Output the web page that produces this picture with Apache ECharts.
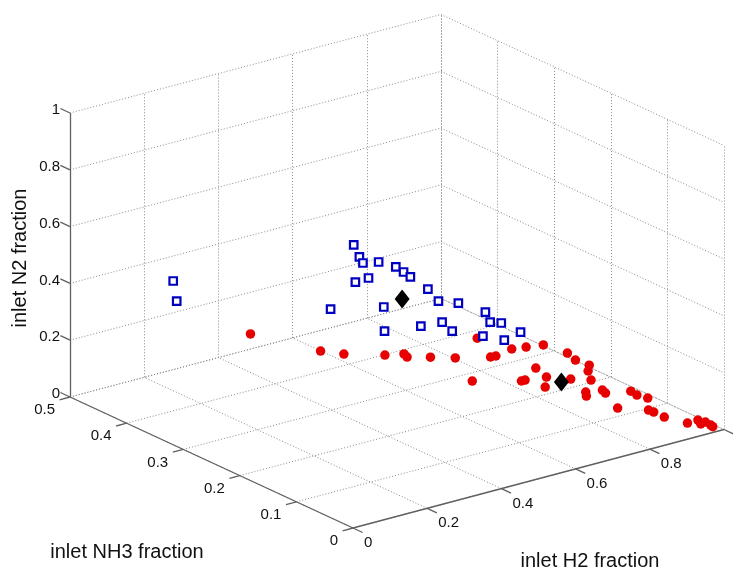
<!DOCTYPE html>
<html><head><meta charset="utf-8">
<script src="https://cdn.jsdelivr.net/npm/echarts@6/dist/echarts.min.js"></script>
<style>html,body{margin:0;padding:0;background:#fff}#c{width:733px;height:569px}</style>
</head><body><div id="c"></div>
<script>
// ---- data: (inlet H2 fraction, inlet NH3 fraction, inlet N2 fraction) ----
const redH2  = [0.430,0.529,0.549,0.562,0.560,0.576,0.581,0.590,0.592,0.588,0.495,0.556,0.549,0.542,0.709,0.718,0.714,0.656,0.703,0.753,0.587,0.624,0.652,0.681,0.727,0.718,0.786,0.806,0.779,0.795,0.790,0.811,0.828,0.872,0.888,0.899,0.926,0.961,0.948,0.968,0.959,0.975,0.991];
const redNH3 = [0.463,0.404,0.376,0.312,0.277,0.282,0.244,0.206,0.145,0.133,0.105,0.084,0.054,0.019,0.254,0.173,0.164,0.107,0.119,0.154,0.006,0.016,0.010,0.031,0.056,0.086,0.104,0.116,0.070,0.075,0.027,0.030,0.022,0.104,0.060,0.058,0.057,0.039,0.012,0.020,0.006,0.007,0.014];
const redN2  = [0.107,0.067,0.075,0.126,0.163,0.142,0.175,0.204,0.263,0.279,0.400,0.360,0.397,0.439,0.037,0.109,0.122,0.237,0.178,0.093,0.407,0.360,0.338,0.288,0.217,0.196,0.110,0.078,0.151,0.130,0.183,0.159,0.150,0.024,0.052,0.043,0.017,0.000,0.040,0.012,0.035,0.018,0.000];

const blueH2  = [0.150,0.251,0.005,0.066,0.097,0.095,0.123,0.150,0.176,0.191,0.173,0.321,0.321,0.240,0.302,0.316,0.442,0.424,0.408,0.455,0.366,0.417,0.424,0.473,0.486,0.510];
const blueNH3 = [0.416,0.476,0.002,0.032,0.046,0.017,0.005,0.009,0.014,0.121,0.086,0.250,0.156,0.025,0.047,0.021,0.234,0.158,0.110,0.123,0.006,0.031,0.016,0.014,0.089,0.067];
const blueN2  = [0.434,0.273,0.993,0.902,0.857,0.888,0.872,0.841,0.810,0.688,0.741,0.429,0.523,0.735,0.651,0.663,0.324,0.418,0.482,0.422,0.628,0.552,0.560,0.513,0.425,0.423];

const diamondH2  = [0.285,0.731];
const diamondNH3 = [0.100,0.111];
const diamondN2  = [0.615,0.158];

const h2Ticks  = [0,0.2,0.4,0.6,0.8,1];
const h2TickLabels  = ['0','0.2','0.4','0.6','0.8',''];
const nh3Ticks = [0,0.1,0.2,0.3,0.4,0.5];
const nh3TickLabels = ['0','0.1','0.2','0.3','0.4','0.5'];
const n2Ticks  = [0,0.2,0.4,0.6,0.8,1];
const n2TickLabels  = ['0','0.2','0.4','0.6','0.8','1'];

// ---- view (orthographic projection of the 3-D box onto the page) ----
const H2_MAX = 1, NH3_MAX = 0.5, N2_MAX = 1;
const ORIGIN = [353, 528];
const EH = [371, -98.5];
const EN = [-566, -262];
const EZ = [0, -284];
function proj(h, n, z) {
  return [ORIGIN[0] + h*EH[0] + n*EN[0] + z*EZ[0],
          ORIGIN[1] + h*EH[1] + n*EN[1] + z*EZ[1]];
}
function add(p, d) { return [p[0]+d[0], p[1]+d[1]]; }

const gridSegs = [];
function seg(a, b) { gridSegs.push({coords: [proj(...a), proj(...b)]}); }
h2Ticks.forEach(h => { seg([h,0,0],[h,NH3_MAX,0]); seg([h,NH3_MAX,0],[h,NH3_MAX,N2_MAX]); });
nh3Ticks.forEach(n => { seg([0,n,0],[H2_MAX,n,0]); seg([H2_MAX,n,0],[H2_MAX,n,N2_MAX]); });
n2Ticks.forEach(z => { seg([0,NH3_MAX,z],[H2_MAX,NH3_MAX,z]); seg([H2_MAX,NH3_MAX,z],[H2_MAX,0,z]); });

const axisSegs = [
  {coords: [proj(0,NH3_MAX,0), proj(0,0,0)]},
  {coords: [proj(0,0,0), proj(H2_MAX,0,0)]},
  {coords: [proj(0,NH3_MAX,0), proj(0,NH3_MAX,N2_MAX)]}
];
const TICK_NH3 = [-10.4, 2.8];   // along -H2
const TICK_H2  = [9.6, 4.5];     // along -NH3
const TICK_N2  = [-9.6, -4.5];   // along +NH3
nh3Ticks.forEach(n => { const p = proj(0,n,0); axisSegs.push({coords:[p, add(p,TICK_NH3)]}); });
h2Ticks.forEach(h => { const p = proj(h,0,0); axisSegs.push({coords:[p, add(p,TICK_H2)]}); });
n2Ticks.forEach(z => { const p = proj(0,NH3_MAX,z); axisSegs.push({coords:[p, add(p,TICK_N2)]}); });

const FONT = '"Liberation Sans", Arial, sans-serif';
function labelSeries(points, texts, align, dx, dy) {
  return {
    type: 'custom', coordinateSystem: 'cartesian2d', silent: true, z: 5,
    data: points,
    renderItem: function (params, api) {
      const c = api.coord([api.value(0), api.value(1)]);
      return {type: 'text', x: c[0] + dx, y: c[1] + dy,
        style: {text: texts[params.dataIndex], fill: '#111', font: '15px ' + FONT,
                align: align, verticalAlign: 'middle', textAlign: align, textVerticalAlign: 'middle'}};
    }
  };
}

const chart = echarts.init(document.getElementById('c'));
chart.setOption({
  animation: false,
  backgroundColor: '#fff',
  grid: {left: 0, right: 0, top: 0, bottom: 0},
  xAxis: {type: 'value', min: 0, max: 733, show: false},
  yAxis: {type: 'value', min: 0, max: 569, inverse: true, show: false},
  graphic: [
    {type: 'text', x: 20, y: 258, rotation: Math.PI/2,
     style: {text: 'inlet N2 fraction', font: '20px ' + FONT, fill: '#111', align: 'center', verticalAlign: 'middle', textAlign: 'center', textVerticalAlign: 'middle'}},
    {type: 'text', x: 127, y: 552,
     style: {text: 'inlet NH3 fraction', font: '20px ' + FONT, fill: '#111', align: 'center', verticalAlign: 'middle', textAlign: 'center', textVerticalAlign: 'middle'}},
    {type: 'text', x: 590, y: 561,
     style: {text: 'inlet H2 fraction', font: '20px ' + FONT, fill: '#111', align: 'center', verticalAlign: 'middle', textAlign: 'center', textVerticalAlign: 'middle'}}
  ],
  series: [
    {type: 'lines', coordinateSystem: 'cartesian2d', silent: true, z: 1, data: gridSegs,
     lineStyle: {color: '#8a8a8a', width: 1, type: [1, 2], opacity: 1}},
    {type: 'lines', coordinateSystem: 'cartesian2d', silent: true, z: 2, data: axisSegs,
     lineStyle: {color: '#606060', width: 1.3, type: 'solid', opacity: 1}},
    labelSeries(nh3Ticks.map(n => proj(0,n,0)), nh3TickLabels, 'right', -15, 13),
    labelSeries(h2Ticks.map(h => proj(h,0,0)), h2TickLabels, 'left', 11, 15),
    labelSeries(n2Ticks.map(z => proj(0,NH3_MAX,z)), n2TickLabels, 'right', -10, -3),
    {type: 'scatter', z: 3, symbol: 'circle', symbolSize: 9.5,
     itemStyle: {color: '#e60000', opacity: 1},
     data: redH2.map((h, i) => proj(h, redNH3[i], redN2[i]))},
    {type: 'scatter', z: 4, symbol: 'rect', symbolSize: 7.5,
     itemStyle: {color: '#ffffff', borderColor: '#0000c0', borderWidth: 2.2, opacity: 1},
     data: blueH2.map((h, i) => proj(h, blueNH3[i], blueN2[i]))},
    {type: 'scatter', z: 5, symbol: 'diamond', symbolSize: [15, 19],
     itemStyle: {color: '#000', opacity: 1},
     data: diamondH2.map((h, i) => proj(h, diamondNH3[i], diamondN2[i]))}
  ]
});
</script></body></html>
